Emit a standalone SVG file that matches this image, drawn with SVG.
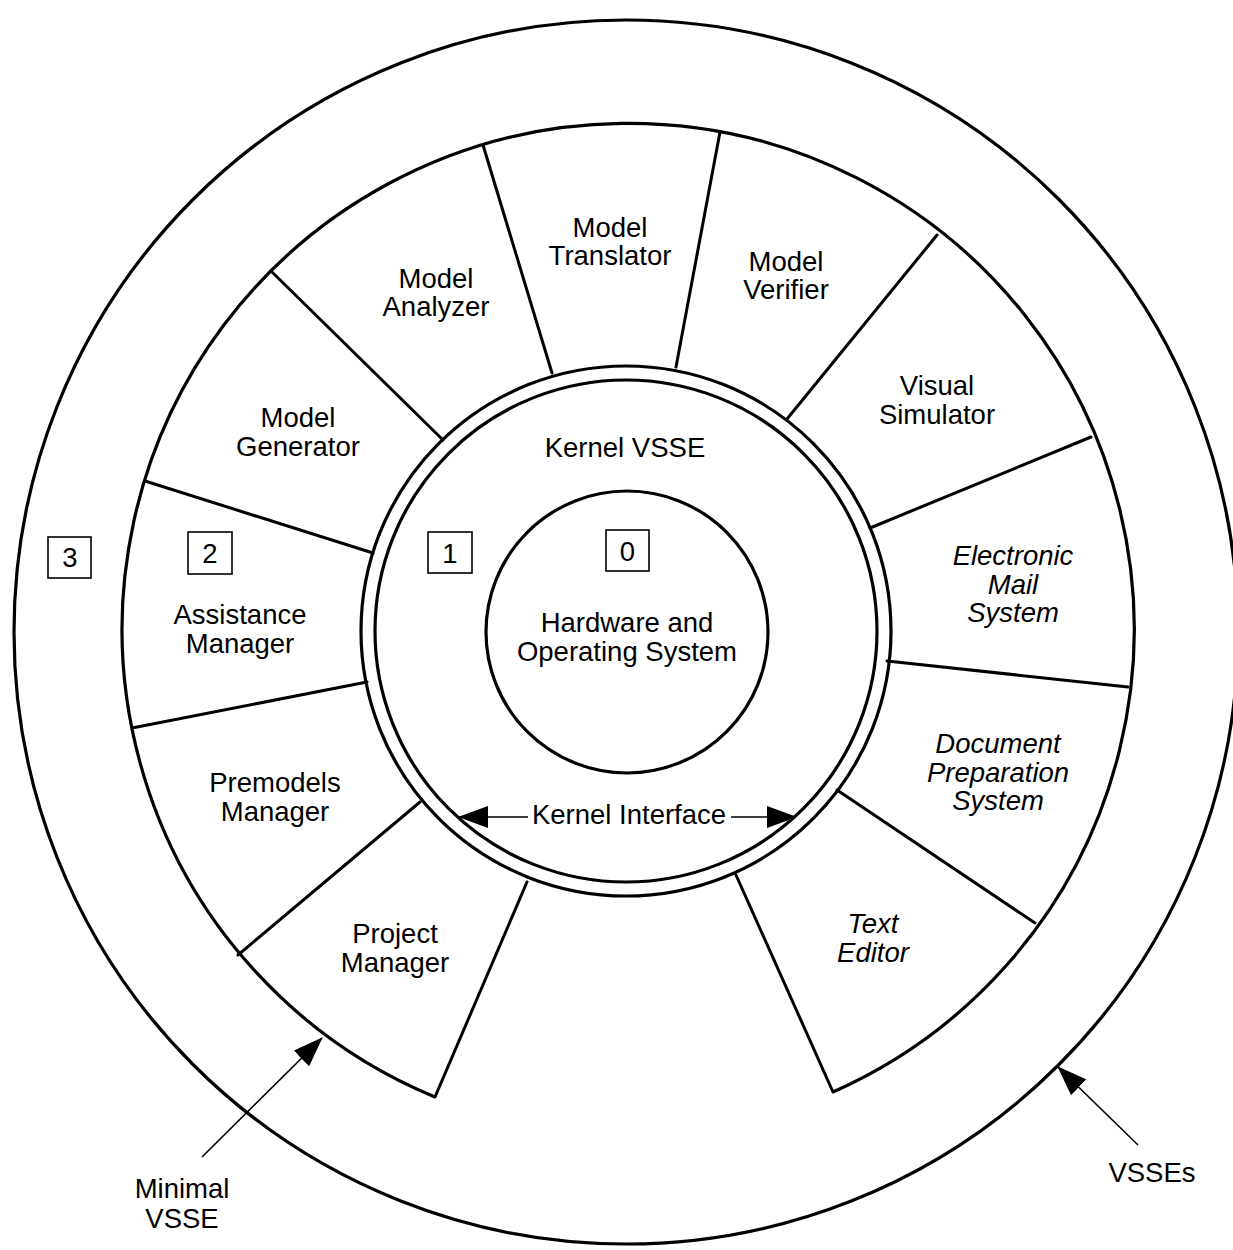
<svg xmlns="http://www.w3.org/2000/svg" width="1233" height="1250" viewBox="0 0 1233 1250">
<defs>
<style>
.ln{fill:none;stroke:#000;stroke-width:3.2}
.dv{fill:none;stroke:#000;stroke-width:3;stroke-linecap:round}
.ar{fill:none;stroke:#000;stroke-width:1.6}
.bx{fill:none;stroke:#000;stroke-width:1.6}
text{font-family:"Liberation Sans",Arial,Helvetica,sans-serif;font-size:27.5px;fill:#000;text-anchor:middle}
.it{font-style:italic}
</style>
<marker id="ah" viewBox="0 0 30 22" refX="29" refY="11" markerWidth="30" markerHeight="22" markerUnits="userSpaceOnUse" orient="auto">
<path d="M0,0 L30,11 L0,22 Z" fill="#000"/>
</marker>
</defs>
<rect width="1233" height="1250" fill="#fff"/>

<g id="vsses">
<circle class="ln" cx="626" cy="632" r="612"/>
<rect class="bx" x="48" y="537" width="43" height="41"/>
<text x="70" y="567">3</text>
</g>

<g id="minimal-vsse-ring">
<path class="ln" d="M435,1097 A506,506 0 1 1 833,1092"/>
<rect class="bx" x="188" y="532" width="44" height="42"/>
<text x="210" y="563">2</text>
</g>

<g id="kernel-vsse">
<circle class="ln" cx="626" cy="631" r="265"/>
<circle class="ln" cx="626" cy="631" r="251"/>
<text x="625" y="457">Kernel VSSE</text>
<rect class="bx" x="428" y="532" width="44" height="41"/>
<text x="450" y="563">1</text>
</g>

<g id="hardware">
<circle class="ln" cx="627" cy="632" r="141"/>
<rect class="bx" x="606" y="530" width="43" height="41"/>
<text x="627.5" y="561">0</text>
<text x="627" y="632">Hardware and</text>
<text x="627" y="661">Operating System</text>
</g>

<g id="segment-dividers">
<line class="dv" x1="552" y1="373" x2="483" y2="145"/>
<line class="dv" x1="676" y1="367" x2="720" y2="132"/>
<line class="dv" x1="787" y1="419" x2="937" y2="235"/>
<line class="dv" x1="870" y1="528" x2="1091" y2="437"/>
<line class="dv" x1="887" y1="661" x2="1128" y2="687"/>
<line class="dv" x1="837" y1="790" x2="1035" y2="923"/>
<line class="dv" x1="736" y1="875" x2="833" y2="1092"/>
<line class="dv" x1="527" y1="882" x2="435" y2="1097"/>
<line class="dv" x1="420" y1="802" x2="238" y2="955"/>
<line class="dv" x1="367" y1="682" x2="132" y2="728"/>
<line class="dv" x1="373" y1="553" x2="145" y2="481"/>
<line class="dv" x1="443" y1="440" x2="271" y2="271"/>
</g>

<g id="model-translator"><text x="610" y="237">Model</text><text x="610" y="265">Translator</text></g>
<g id="model-analyzer"><text x="436" y="288">Model</text><text x="436" y="316">Analyzer</text></g>
<g id="model-verifier"><text x="786" y="271">Model</text><text x="786" y="299">Verifier</text></g>
<g id="visual-simulator"><text x="937" y="395">Visual</text><text x="937" y="424">Simulator</text></g>
<g id="electronic-mail-system"><text class="it" x="1013" y="565">Electronic</text><text class="it" x="1013" y="594">Mail</text><text class="it" x="1013" y="622">System</text></g>
<g id="document-preparation-system"><text class="it" x="998" y="753">Document</text><text class="it" x="998" y="782">Preparation</text><text class="it" x="998" y="810">System</text></g>
<g id="text-editor"><text class="it" x="873" y="933">Text</text><text class="it" x="873" y="962">Editor</text></g>
<g id="project-manager"><text x="395" y="943">Project</text><text x="395" y="972">Manager</text></g>
<g id="premodels-manager"><text x="275" y="792">Premodels</text><text x="275" y="821">Manager</text></g>
<g id="assistance-manager"><text x="240" y="624">Assistance</text><text x="240" y="653">Manager</text></g>
<g id="model-generator"><text x="298" y="427">Model</text><text x="298" y="456">Generator</text></g>

<g id="kernel-interface"><text x="629" y="824">Kernel Interface</text></g>
<g id="label-minimal-vsse"><text x="182" y="1198">Minimal</text><text x="182" y="1228">VSSE</text></g>
<g id="label-vsses"><text x="1152" y="1182">VSSEs</text></g>

<g id="connectors">
<line class="ar" x1="528" y1="817" x2="459" y2="817" marker-end="url(#ah)"/>
<line class="ar" x1="731" y1="817" x2="796" y2="817" marker-end="url(#ah)"/>
<line class="ar" x1="202" y1="1157" x2="322" y2="1038" marker-end="url(#ah)"/>
<line class="ar" x1="1138" y1="1145" x2="1058" y2="1067" marker-end="url(#ah)"/>
</g>
</svg>
